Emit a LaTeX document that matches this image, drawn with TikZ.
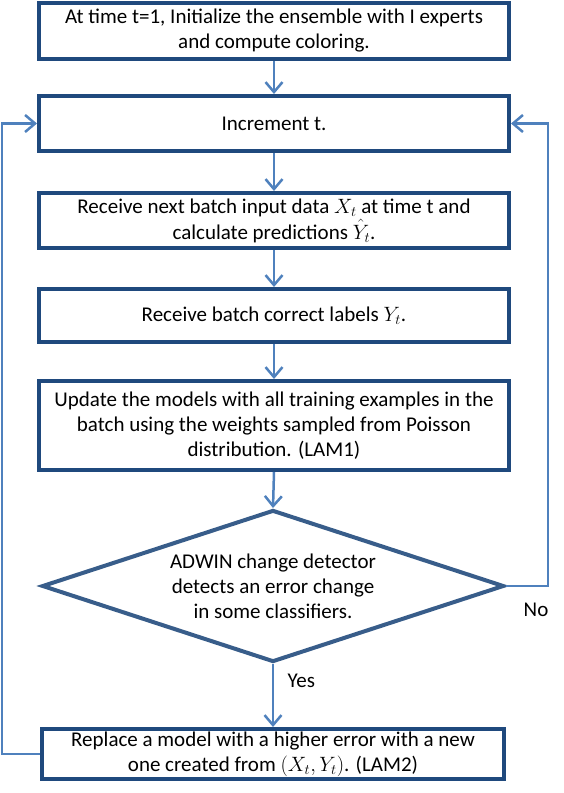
\documentclass[tikz,border=0pt]{standalone}
\usepackage{fontspec}
\setmainfont{Carlito}
\usepackage{tikz}
\usetikzlibrary{arrows.meta, positioning, shapes.geometric}
\definecolor{Navy}{HTML}{1F497D}
\definecolor{Sky}{HTML}{4F81BD}
\definecolor{Slate}{HTML}{385D8A}

\begin{document}
\begin{tikzpicture}[x=1pt, y=-1pt,
  font=\fontsize{21}{25}\selectfont,
  proc/.style={draw=Navy, line width=4pt, minimum width=470pt,
     inner sep=0pt, align=center},
  test/.style={diamond, aspect=3, draw=Slate, line width=4pt, minimum width=462pt,
     minimum height=152pt, inner sep=0pt, align=center},
  arr/.style={-{Straight Barb[length=10pt, width=17pt]}, line width=2.5pt, Sky}]
  \useasboundingbox (0,0) rectangle (563,793);
  \node[proc, minimum height=56pt] (init) at (274,31)
        {At time t=1, Initialize the ensemble with I experts\\and compute coloring.};
  \node[proc, minimum height=55pt] (inc) at (274,123.5) {Increment t.};
  \node[proc, minimum height=55pt] (recv) at (274,220.5)
        {Receive next batch input data $X_t$ at time t and\\[1pt]calculate predictions $\hat{Y}_t$.};
  \node[proc, minimum height=53pt] (lbl) at (274,315.5) {Receive batch correct labels $Y_t$.};
  \node[proc, minimum height=89pt] (upd) at (274,425.5)
        {Update the models with all training examples in the\\batch using the weights sampled from Poisson\\distribution. (LAM1)};
  \node[test] (chg) at (273,586)
        {ADWIN change detector\\detects an error change\\in some classifiers.};
  \node[proc, minimum width=462pt, minimum height=50pt] (repl) at (273,754)
        {Replace a model with a higher error with a new\\one created from $(X_t, Y_t)$. (LAM2)};
  \node (no) at (536,610) {No};
  \coordinate (lx) at (2,0);
  \coordinate (rx) at (548,0);
  \draw[arr] (init) -- (inc);
  \draw[arr] (inc) -- (recv);
  \draw[arr] (recv) -- (lbl);
  \draw[arr] (lbl) -- (upd);
  \draw[arr] (upd.south) -- (chg.north);
  \draw[arr] (chg.south) -- node[pos=.27, right=10pt, black] {Yes} (repl.north);
  \draw[arr] (chg.east) -- (chg.east -| rx) |- (inc.east);
  \draw[arr] (repl.west) -- (repl.west -| lx) |- (inc.west);
\end{tikzpicture}
\end{document}
